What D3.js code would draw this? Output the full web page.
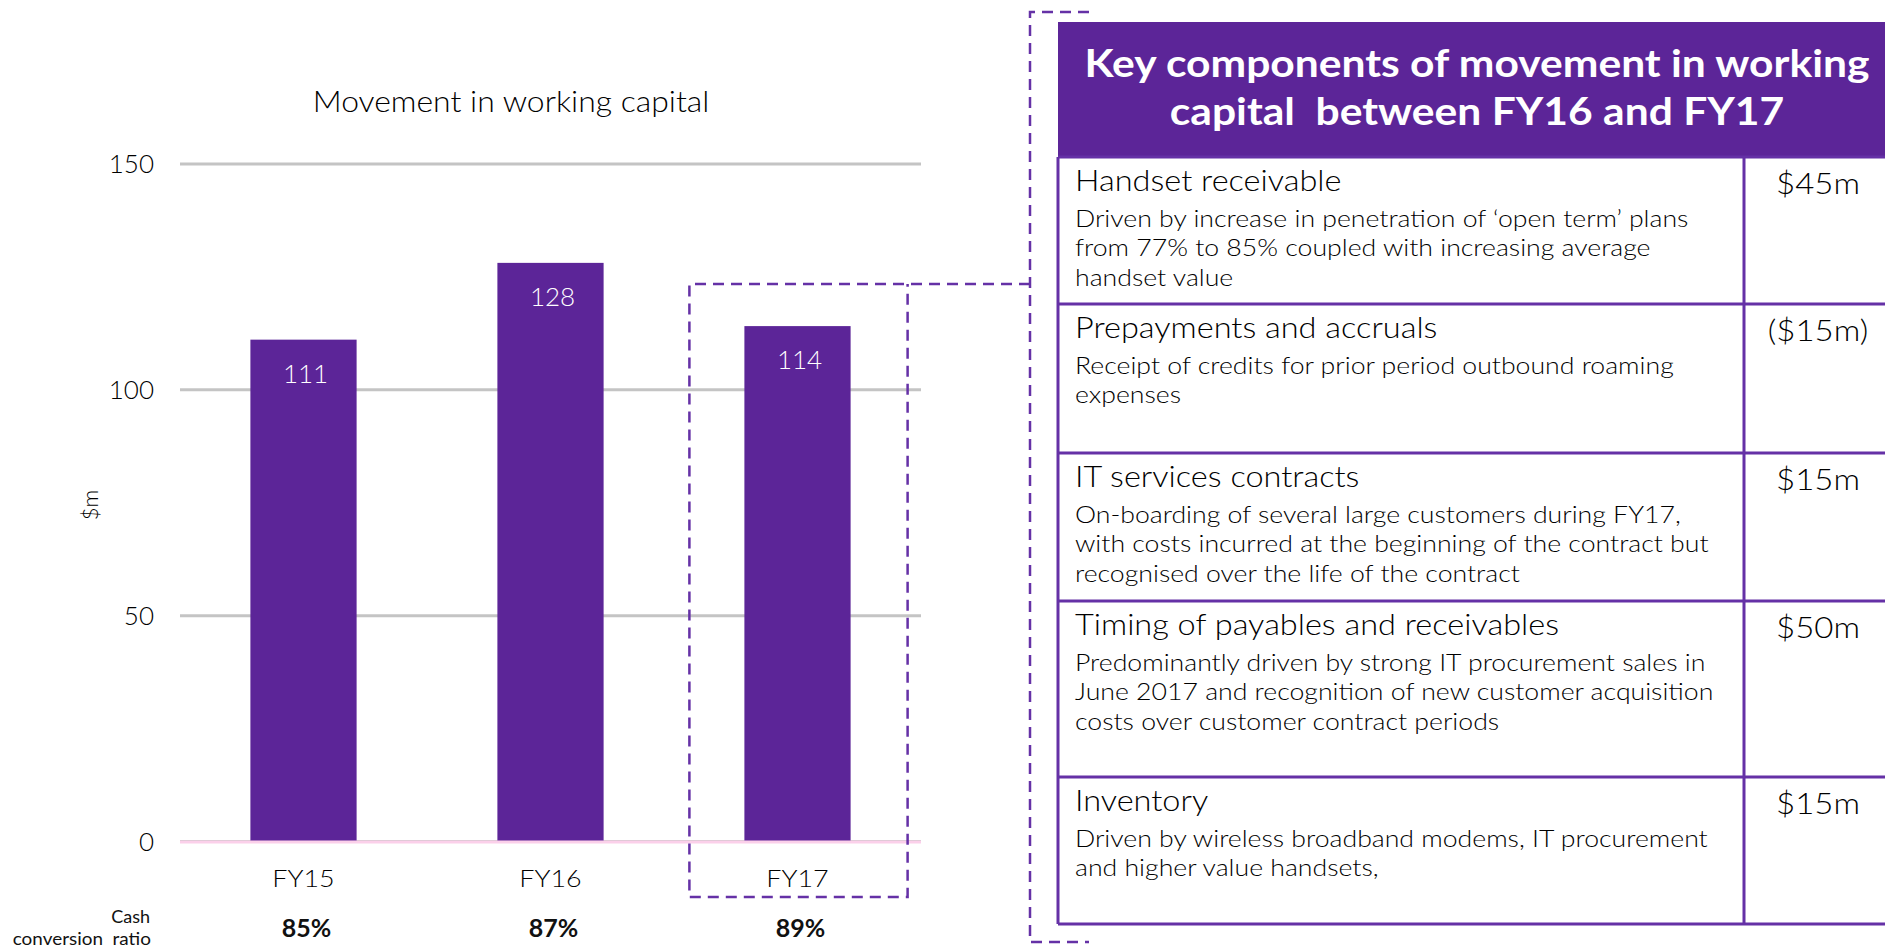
<!DOCTYPE html>
<html>
<head>
<meta charset="utf-8">
<script src="https://cdn.jsdelivr.net/npm/d3@7"></script>
<style>
  html, body { margin: 0; padding: 0; background: #fff; }
  svg text { font-family: Lato, "Open Sans", sans-serif; fill: #111; white-space: pre; }
  svg text.light { font-weight: 300; fill: #000; }
</style>
</head>
<body>
<svg id="chart" width="1885" height="948"></svg>
<script>
// chart data
const years = ["FY15", "FY16", "FY17"];
const capitalMovement = [111, 128, 114];
const cashConversion = ["85%", "87%", "89%"];
const yTicks = [0, 50, 100, 150];

// table data
const headerLines = ["Key components of movement in working", "capital  between FY16 and FY17"];
const componentNames = [
    "Handset receivable",
    "Prepayments and accruals",
    "IT services contracts",
    "Timing of payables and receivables",
    "Inventory"
];
const componentAmounts = ["$45m", "($15m)", "$15m", "$50m", "$15m"];
const componentNotes = [
    ["Driven by increase in penetration of \u2018open term\u2019 plans",
     "from 77% to 85% coupled with increasing average",
     "handset value"],
    ["Receipt of credits for prior period outbound roaming",
     "expenses"],
    ["On-boarding of several large customers during FY17,",
     "with costs incurred at the beginning of the contract but",
     "recognised over the life of the contract"],
    ["Predominantly driven by strong IT procurement sales in",
     "June 2017 and recognition of new customer acquisition",
     "costs over customer contract periods"],
    ["Driven by wireless broadband modems, IT procurement",
     "and higher value handsets,"]
];

const purple = "#5c2598",
    linePurple = "#6531a6"

// Lato is narrower than the original face, so widen glyphs a bit
function stretch(sel, k) {
    sel.each(function () {
        const w = this.getComputedTextLength()
        d3.select(this).attr("textLength", w * k).attr("lengthAdjust", "spacingAndGlyphs")
    })
}

const svg = d3.select("#chart")

// ---- bar chart ----
const x = d3.scaleBand().domain(years).range([180, 921]).paddingInner(0.57).paddingOuter(0.285)
const y = d3.scaleLinear().domain([0, 150]).range([841, 163.5])

svg.append("text")
    .attr("class", "light")
    .attr("x", 511).attr("y", 112)
    .attr("text-anchor", "middle")
    .attr("font-size", 29)
    .text("Movement in working capital")
    .call(stretch, 1.1)

// gridlines + y labels
svg.append("g")
    .attr("transform", "translate(180,0)")
    .call(d3.axisLeft(y).tickValues(yTicks).tickSize(-741).tickPadding(26))
    .call(g => g.select(".domain").remove())
    .call(g => g.selectAll("line").attr("stroke", "#c4c4c4").attr("stroke-width", 3))
    .call(g => g.selectAll("text").attr("class", "light").attr("font-size", 26).attr("dy", "0.36em"))

svg.append("text")
    .attr("class", "light")
    .attr("transform", "translate(98,505) rotate(-90)")
    .attr("text-anchor", "middle")
    .attr("font-size", 22)
    .text("$m")

// bars
svg.append("g")
    .selectAll("rect")
    .data(capitalMovement)
    .enter()
    .append("rect")
    .attr("x", (d, i) => x(years[i]))
    .attr("y", d => y(d))
    .attr("width", x.bandwidth())
    .attr("height", d => y(0) - y(d))
    .attr("fill", purple)

svg.append("g")
    .selectAll("text")
    .data(capitalMovement)
    .enter()
    .append("text")
    .attr("x", (d, i) => x(years[i]) + x.bandwidth() / 2 + 2)
    .attr("y", d => y(d) + 43)
    .attr("text-anchor", "middle")
    .attr("font-size", 26)
    .style("font-weight", 300)
    .style("fill", "#fff")
    .text(d => d)

// zero line on top
svg.append("line")
    .attr("x1", 180).attr("x2", 921)
    .attr("y1", y(0) + 1).attr("y2", y(0) + 1)
    .attr("stroke", "#fbd0ea").attr("stroke-width", 3)

// x labels
svg.append("g")
    .attr("transform", "translate(0," + y(0) + ")")
    .call(d3.axisBottom(x).tickSize(0).tickPadding(29))
    .call(g => g.select(".domain").remove())
    .call(g => g.selectAll("text").attr("class", "light").attr("font-size", 24).call(stretch, 1.12))

// cash conversion row
svg.append("text")
    .attr("x", 150).attr("y", 923)
    .attr("text-anchor", "end")
    .attr("font-size", 18)
    .text("Cash")
svg.append("text")
    .attr("x", 151).attr("y", 945)
    .attr("text-anchor", "end")
    .attr("font-size", 18)
    .text("conversion  ratio")
    .call(stretch, 1.05)

svg.append("g")
    .selectAll("text")
    .data(cashConversion)
    .enter()
    .append("text")
    .attr("x", (d, i) => x(years[i]) + x.bandwidth() / 2 + 3)
    .attr("y", 937)
    .attr("text-anchor", "middle")
    .attr("font-size", 25)
    .attr("font-weight", "bold")
    .text(d => d)

// dashed highlight box and bracket
const boxL = x("FY17") - 55,
    boxR = x("FY17") + x.bandwidth() + 57
svg.append("path")
    .attr("d", "M1030,284 H" + boxL + " V897 H" + boxR + " V284")
    .attr("fill", "none")
    .attr("stroke", linePurple)
    .attr("stroke-width", 2.5)
    .attr("stroke-dasharray", "11,7")
svg.append("path")
    .attr("d", "M1089,12 H1030 V942 H1089")
    .attr("fill", "none")
    .attr("stroke", linePurple)
    .attr("stroke-width", 2.5)
    .attr("stroke-dasharray", "11,7")

// ---- table ----
const tableLeft = 1058,
    tableRight = 1905,
    colSplit = 1744,
    headTop = 22,
    headBottom = 157
const rowHeights = [147, 149, 148, 176, 147]
let rowTops = [headBottom]
rowHeights.forEach(h => rowTops.push(rowTops[rowTops.length - 1] + h))

svg.append("rect")
    .attr("x", tableLeft).attr("y", headTop)
    .attr("width", tableRight - tableLeft).attr("height", headBottom - headTop)
    .attr("fill", purple)

svg.append("g")
    .selectAll("text")
    .data(headerLines)
    .enter()
    .append("text")
    .attr("x", 1477)
    .attr("y", (d, i) => 77 + i * 47.5)
    .attr("text-anchor", "middle")
    .attr("font-size", 38)
    .attr("font-weight", "bold")
    .style("fill", "#fff")
    .text(d => d)
    .call(stretch, 1.12)

const table = svg.append("g")

table.selectAll("line.row")
    .data(rowTops)
    .enter()
    .append("line")
    .attr("class", "row")
    .attr("x1", tableLeft).attr("x2", tableRight)
    .attr("y1", d => d).attr("y2", d => d)
    .attr("stroke", linePurple).attr("stroke-width", 3)

table.selectAll("line.col")
    .data([tableLeft, colSplit])
    .enter()
    .append("line")
    .attr("class", "col")
    .attr("x1", d => d).attr("x2", d => d)
    .attr("y1", headBottom).attr("y2", rowTops[rowTops.length - 1])
    .attr("stroke", linePurple).attr("stroke-width", 3)

componentNames.forEach(function (name, i) {
    const top = rowTops[i]
    table.append("text")
        .attr("class", "light")
        .attr("x", 1075).attr("y", top + 34)
        .attr("font-size", 29)
        .text(name)
        .call(stretch, 1.12)
    table.append("text")
        .attr("class", "light")
        .attr("x", 1818).attr("y", top + 36.5)
        .attr("text-anchor", "middle")
        .attr("font-size", 30)
        .text(componentAmounts[i])
        .call(stretch, 1.1)
    componentNotes[i].forEach(function (line, j) {
        table.append("text")
            .attr("class", "light")
            .attr("x", 1075).attr("y", top + 69.5 + j * 29.5)
            .attr("font-size", 24)
            .text(line)
            .call(stretch, 1.11)
    })
})
</script>
</body>
</html>
